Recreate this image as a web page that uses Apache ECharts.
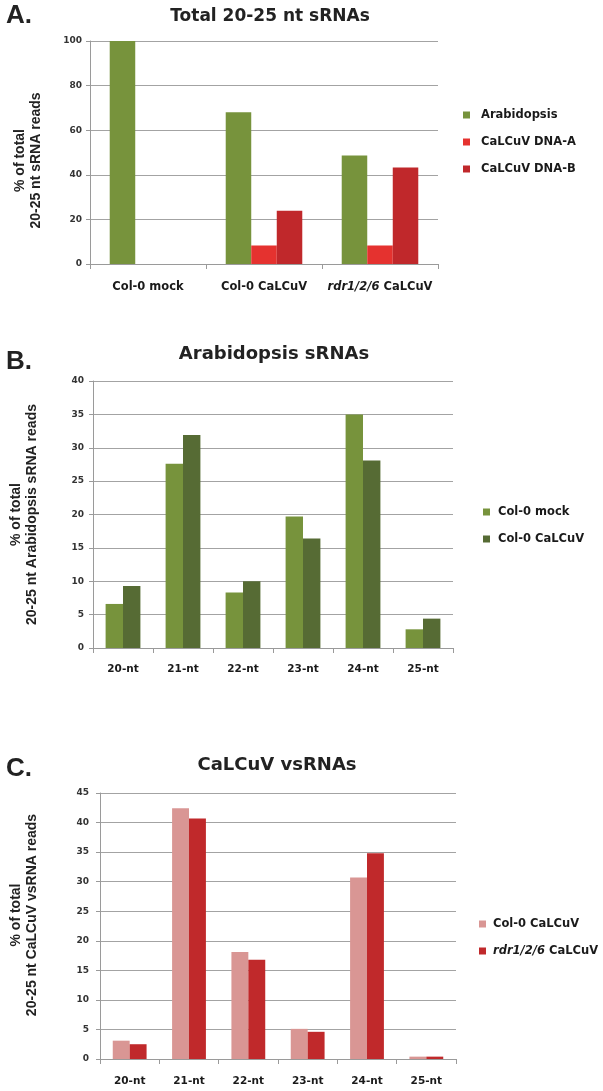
<!DOCTYPE html>
<html>
<head>
<meta charset="utf-8">
<script src="https://cdn.jsdelivr.net/npm/echarts@6/dist/echarts.min.js"></script>
<style>
html,body{margin:0;padding:0;background:#fff;}
#chart{width:603px;height:1091px;}
</style>
</head>
<body>
<div id="chart"></div>
<script>
// ---- Data ----
const catA = ['Col-0 mock', 'Col-0 CaLCuV', 'rdr1/2/6 CaLCuV'];
const arabA = [100, 68, 48.7];
const dnaAvals = [0, 8.3, 8.3];
const dnaBvals = [0, 23.9, 43.3];

const ntCats = ['20-nt', '21-nt', '22-nt', '23-nt', '24-nt', '25-nt'];
const bMock = [6.6, 27.6, 8.3, 19.7, 35.0, 2.8];
const bCaLCuV = [9.3, 31.9, 10.0, 16.4, 28.1, 4.4];

const cCol0 = [3.1, 42.4, 18.1, 5.1, 30.7, 0.4];
const cRdr = [2.5, 40.7, 16.8, 4.6, 34.8, 0.4];

const yTicksA = {min: 0, max: 100, interval: 20};
const yTicksB = {min: 0, max: 40, interval: 5};
const yTicksC = {min: 0, max: 45, interval: 5};

// ---- Styles ----
const FONT = 'DejaVu Sans';
const ARIAL = 'Liberation Sans';
const gridLineColor = '#a3a3a3';
const axisColor = '#9a9a9a';

function italicFmt(v) {
  if (v.indexOf('rdr1/2/6') === 0) {
    return '{i|rdr1/2/6}' + v.slice(8);
  }
  return v;
}

function xAx(gridIndex, data, fontSize, margin) {
  return {
    type: 'category', gridIndex: gridIndex, data: data,
    axisLine: {lineStyle: {color: axisColor, width: 1}},
    axisTick: {show: true, length: 5, lineStyle: {color: axisColor}},
    axisLabel: {
      interval: 0,
      margin: margin, color: '#1a1a1a', fontFamily: FONT, fontWeight: 'bold', fontSize: fontSize,
      formatter: italicFmt,
      rich: {i: {fontFamily: FONT, fontWeight: 'bold', fontStyle: 'italic', fontSize: fontSize, color: '#1a1a1a'}}
    },
    splitLine: {show: false}
  };
}

function yAx(gridIndex, ticks, name, nameGap, labelMargin, namePad) {
  return {
    type: 'value', gridIndex: gridIndex, min: ticks.min, max: ticks.max, interval: ticks.interval,
    name: name, nameLocation: 'middle', nameRotate: 90, nameGap: nameGap,
    nameTextStyle: {fontFamily: ARIAL, fontWeight: 'bold', fontSize: 14, lineHeight: 16, color: '#222', align: 'center', padding: namePad},
    axisLine: {show: true, lineStyle: {color: axisColor, width: 1}},
    axisTick: {show: true, length: 4, lineStyle: {color: axisColor}},
    axisLabel: {margin: labelMargin, color: '#333', fontFamily: FONT, fontWeight: 'bold', fontSize: 9},
    splitLine: {show: true, lineStyle: {color: gridLineColor, width: 1}}
  };
}

function bar(name, data, color, xi, gap) {
  return {
    type: 'bar', name: name, data: data, xAxisIndex: xi, yAxisIndex: xi,
    barGap: '0%', barCategoryGap: gap,
    itemStyle: {color: color},
    emphasis: {disabled: true},
    animation: false
  };
}

function legend(names, left, top, padLeft) {
  return {
    orient: 'vertical', left: left, top: top, itemWidth: 7, itemHeight: 7, itemGap: 13,
    padding: 0,
    icon: 'rect',
    data: names,
    textStyle: {
      fontFamily: FONT, fontWeight: 'bold', fontSize: 11.5, color: '#1a1a1a', lineHeight: 14,
      padding: [0, 0, 0, padLeft],
      rich: {i: {fontFamily: FONT, fontWeight: 'bold', fontStyle: 'italic', fontSize: 11.5, color: '#1a1a1a'}}
    },
    formatter: italicFmt,
    selectedMode: false
  };
}

const titleStyle = (size) => ({fontFamily: FONT, fontWeight: 'bold', fontSize: size, color: '#222'});
const letterStyle = {fontFamily: ARIAL, fontWeight: 'bold', fontSize: 26, color: '#222'};

const option = {
  backgroundColor: '#ffffff',
  animation: false,
  title: [
    {text: 'Total 20-25 nt sRNAs', left: 270, top: 8, textAlign: 'center', textStyle: titleStyle(17), padding: 0},
    {text: 'Arabidopsis sRNAs', left: 274, top: 345, textAlign: 'center', textStyle: titleStyle(18), padding: 0},
    {text: 'CaLCuV vsRNAs', left: 277, top: 756, textAlign: 'center', textStyle: titleStyle(18), padding: 0},
    {text: 'A.', left: 6, top: 3, textStyle: letterStyle, padding: 0},
    {text: 'B.', left: 6, top: 349, textStyle: letterStyle, padding: 0},
    {text: 'C.', left: 6, top: 756, textStyle: letterStyle, padding: 0}
  ],
  grid: [
    {left: 90, right: 165, top: 41, height: 223, containLabel: false},
    {left: 90, right: 150, top: 381, height: 267, containLabel: false},
    {left: 93, right: 147, top: 793, height: 266, containLabel: false}
  ],
  xAxis: [
    xAx(0, catA, 11.5, 17),
    xAx(1, ntCats, 10.5, 16),
    xAx(2, ntCats, 10.5, 17)
  ],
  yAxis: [
    yAx(0, yTicksA, '% of total\n20-25 nt sRNA reads', 46, 8, [0, 16, 0, 0]),
    yAx(1, yTicksB, '% of total\n20-25 nt Arabidopsis sRNA reads', 53, 9, [0, 0, 0, 0]),
    yAx(2, yTicksC, '% of total\n20-25 nt CaLCuV vsRNA reads', 60, 11, [0, 0, 0, 22])
  ],
  legend: [
    legend(['Arabidopsis', 'CaLCuV DNA-A', 'CaLCuV DNA-B'], 463, 108, 6),
    legend(['Col-0 mock', 'Col-0 CaLCuV'], 483, 505, 3),
    legend(['Col-0 CaLCuV ', 'rdr1/2/6 CaLCuV'], 479, 917, 2)
  ],
  series: [
    bar('Arabidopsis', arabA, '#77933c', 0, '34%'),
    bar('CaLCuV DNA-A', dnaAvals, '#e5322f', 0, '34%'),
    bar('CaLCuV DNA-B', dnaBvals, '#c0282b', 0, '34%'),
    bar('Col-0 mock', bMock, '#77933c', 1, '42%'),
    bar('Col-0 CaLCuV', bCaLCuV, '#566b34', 1, '42%'),
    bar('Col-0 CaLCuV ', cCol0, '#d99694', 2, '43%'),
    bar('rdr1/2/6 CaLCuV', cRdr, '#c0292b', 2, '43%')
  ]
};

const chart = echarts.init(document.getElementById('chart'), null, {renderer: 'canvas'});
chart.setOption(option);
</script>
</body>
</html>
